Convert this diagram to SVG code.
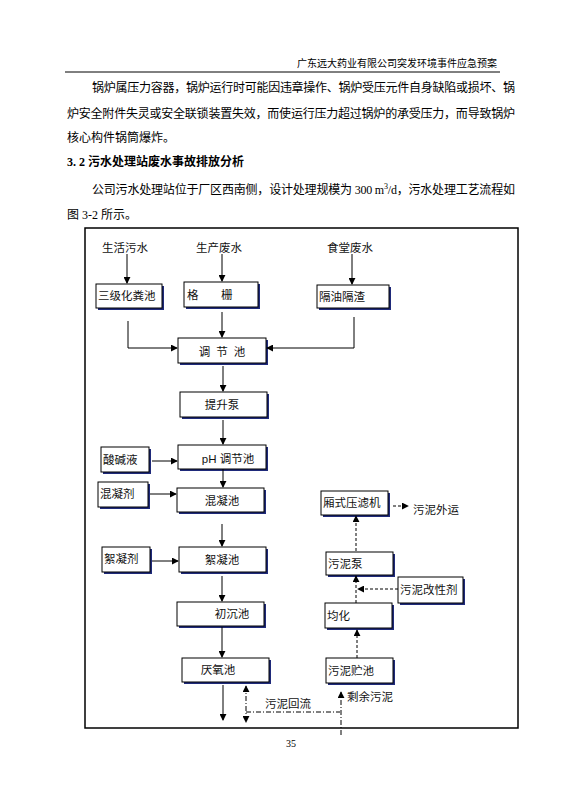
<svg xmlns="http://www.w3.org/2000/svg" width="565" height="800" viewBox="0 0 565 800">
<defs>
<style>
.t{font-family:"Liberation Serif","Noto Sans CJK SC",serif;fill:#000}
.p{font-size:12px}
.l{font-family:"Liberation Sans","Noto Sans CJK SC",sans-serif;font-size:11.5px;fill:#111}
.sh{fill:#1f2a7a}
.bx{fill:#fff;stroke:#000;stroke-width:1}
.c{stroke:#000;stroke-width:1;fill:none}
.d{stroke:#000;stroke-width:1;fill:none;stroke-dasharray:3,2}
.dd{stroke:#000;stroke-width:1;fill:none;stroke-dasharray:5,2,1,2}
</style>
<marker id="a" viewBox="0 0 8 8" refX="7" refY="4" markerWidth="7" markerHeight="7" markerUnits="userSpaceOnUse" orient="auto-start-reverse">
<path d="M0,0L8,4L0,8z" fill="#000"/>
</marker>
</defs>
<rect width="565" height="800" fill="#fff"/>
<!-- header -->
<text class="t" x="497" y="67" font-size="10" text-anchor="end">广东远大药业有限公司突发环境事件应急预案</text>
<line x1="65" y1="72" x2="500" y2="72" stroke="#000" stroke-width="1"/>
<!-- body text -->
<text class="t p" x="92" y="92" textLength="423" lengthAdjust="spacing">锅炉属压力容器，锅炉运行时可能因违章操作、锅炉受压元件自身缺陷或损坏、锅</text>
<text class="t p" x="67" y="118" textLength="448" lengthAdjust="spacing">炉安全附件失灵或安全联锁装置失效，而使运行压力超过锅炉的承受压力，而导致锅炉</text>
<text class="t p" x="67" y="142">核心构件锅筒爆炸。</text>
<text class="t p" x="67" y="166" font-weight="bold">3. 2 污水处理站废水事故排放分析</text>
<text class="t p" x="92" y="194" textLength="423" lengthAdjust="spacing">公司污水处理站位于厂区西南侧，设计处理规模为 300 m<tspan font-size="8" dy="-5">3</tspan><tspan dy="5">/d，污水处理工艺流程如</tspan></text>
<text class="t p" x="67" y="219">图 3-2 所示。</text>
<!-- frame -->
<rect x="85" y="228" width="433" height="500" fill="none" stroke="#000" stroke-width="1.5"/>
<!-- source labels -->
<text class="l" x="125" y="252" text-anchor="middle">生活污水</text>
<text class="l" x="219" y="252" text-anchor="middle">生产废水</text>
<text class="l" x="350" y="252" text-anchor="middle">食堂废水</text>
<!-- nodes -->
<g id="n-sanji"><rect class="sh" x="98" y="286" width="66" height="24"/><rect class="bx" x="96" y="284" width="66" height="24"/><text class="l" x="98" y="300">三级化粪池</text></g>
<g id="n-gezha"><rect class="sh" x="186" y="284" width="74" height="25"/><rect class="bx" x="184" y="282" width="74" height="25"/><text class="l" x="187" y="299">格</text><text class="l" x="221" y="299">栅</text></g>
<g id="n-geyou"><rect class="sh" x="319" y="287" width="72" height="23"/><rect class="bx" x="317" y="285" width="72" height="23"/><text class="l" x="319" y="301">隔油隔渣</text></g>
<g id="n-tiaojie"><rect class="sh" x="180" y="340" width="88" height="25"/><rect class="bx" x="178" y="338" width="88" height="25"/><text class="l" x="225" y="356" text-anchor="middle" letter-spacing="6">调节池</text></g>
<g id="n-tisheng"><rect class="sh" x="182" y="394" width="87" height="25"/><rect class="bx" x="180" y="392" width="87" height="25"/><text class="l" x="222" y="409" text-anchor="middle">提升泵</text></g>
<g id="n-ph"><rect class="sh" x="180" y="447" width="88" height="24"/><rect class="bx" x="178" y="445" width="88" height="24"/><text class="l" x="228" y="463" text-anchor="middle">pH 调节池</text></g>
<g id="n-suanjian"><rect class="sh" x="103" y="449" width="48" height="25"/><rect class="bx" x="101" y="447" width="48" height="25"/><text class="l" x="103" y="464">酸碱液</text></g>
<g id="n-hunning"><rect class="sh" x="179" y="490" width="87" height="24"/><rect class="bx" x="177" y="488" width="87" height="24"/><text class="l" x="222" y="505" text-anchor="middle">混凝池</text></g>
<g id="n-hunningji"><rect class="sh" x="100" y="484" width="50" height="25"/><rect class="bx" x="98" y="482" width="50" height="25"/><text class="l" x="100" y="498">混凝剂</text></g>
<g id="n-xuning"><rect class="sh" x="181" y="549" width="87" height="25"/><rect class="bx" x="179" y="547" width="87" height="25"/><text class="l" x="222" y="564" text-anchor="middle">絮凝池</text></g>
<g id="n-xuningji"><rect class="sh" x="104" y="549" width="48" height="25"/><rect class="bx" x="102" y="547" width="48" height="25"/><text class="l" x="104" y="563">絮凝剂</text></g>
<g id="n-chuchen"><rect class="sh" x="179" y="604" width="87" height="24"/><rect class="bx" x="177" y="602" width="87" height="24"/><text class="l" x="232" y="618" text-anchor="middle">初沉池</text></g>
<g id="n-yanyang"><rect class="sh" x="184" y="660" width="87" height="24"/><rect class="bx" x="182" y="658" width="87" height="24"/><text class="l" x="218" y="674" text-anchor="middle">厌氧池</text></g>
<g id="n-yaluji"><rect class="sh" x="323" y="493" width="67" height="24"/><rect class="bx" x="321" y="491" width="67" height="24"/><text class="l" x="323" y="507">厢式压滤机</text></g>
<g id="n-wunibeng"><rect class="sh" x="328" y="554" width="67" height="23"/><rect class="bx" x="326" y="552" width="67" height="23"/><text class="l" x="328" y="568">污泥泵</text></g>
<g id="n-gaixingji"><rect class="sh" x="400" y="579" width="65" height="26"/><rect class="bx" x="398" y="577" width="65" height="26"/><text class="l" x="400" y="594">污泥改性剂</text></g>
<g id="n-junhua"><rect class="sh" x="327" y="605" width="67" height="25"/><rect class="bx" x="325" y="603" width="67" height="25"/><text class="l" x="327" y="620">均化</text></g>
<g id="n-zhuchi"><rect class="sh" x="328" y="660" width="67" height="25"/><rect class="bx" x="326" y="658" width="67" height="25"/><text class="l" x="328" y="675">污泥贮池</text></g>
<!-- free labels -->
<text class="l" x="413" y="514">污泥外运</text>
<text class="l" x="265" y="708">污泥回流</text>
<text class="l" x="347" y="701">剩余污泥</text>
<!-- connectors -->
<g id="connectors">
<path class="c" d="M127,254V283" marker-end="url(#a)"/>
<path class="c" d="M222,254V281" marker-end="url(#a)"/>
<path class="c" d="M352,254V284" marker-end="url(#a)"/>
<path class="c" d="M128,321V348H177" marker-end="url(#a)"/>
<path class="c" d="M222,312V337" marker-end="url(#a)"/>
<path class="c" d="M354,317V348H267" marker-end="url(#a)"/>
<path class="c" d="M223,366V391" marker-end="url(#a)"/>
<path class="c" d="M223,420V444" marker-end="url(#a)"/>
<path class="c" d="M152,461H177" marker-end="url(#a)"/>
<path class="c" d="M223,469V487" marker-end="url(#a)"/>
<path class="c" d="M150,494H176" marker-end="url(#a)"/>
<path class="c" d="M222,524V546" marker-end="url(#a)"/>
<path class="c" d="M152,561H178" marker-end="url(#a)"/>
<path class="c" d="M222,576V601" marker-end="url(#a)"/>
<path class="c" d="M222,627V657" marker-end="url(#a)"/>
<path class="c" d="M223,685V720" marker-end="url(#a)"/>
<path class="dd" d="M246,686V722" marker-start="url(#a)" marker-end="url(#a)"/>
<path class="dd" d="M246,712H340"/>
<path class="dd" d="M341,735V692" marker-end="url(#a)"/>
<path class="d" d="M357,658V630" marker-end="url(#a)"/>
<path class="d" d="M356,603V576" marker-end="url(#a)"/>
<path class="d" d="M398,589H358" marker-end="url(#a)"/>
<path class="d" d="M356,551V516" marker-end="url(#a)"/>
<path class="d" d="M393,506H408" marker-end="url(#a)"/>
</g>
<text class="t" x="291" y="747" font-size="10" text-anchor="middle">35</text>
</svg>
